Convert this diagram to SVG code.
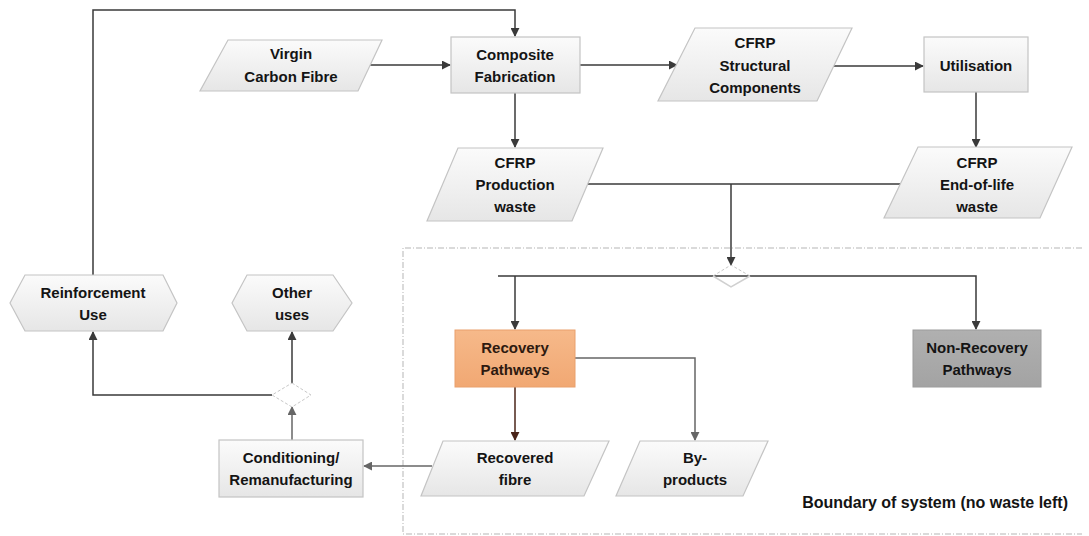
<svg xmlns="http://www.w3.org/2000/svg" width="1089" height="536" viewBox="0 0 1089 536">
<defs>
<linearGradient id="gf" x1="0" y1="0" x2="0" y2="1">
<stop offset="0" stop-color="#fbfbfb"/>
<stop offset="1" stop-color="#e6e6e6"/>
</linearGradient>
<linearGradient id="go" x1="0" y1="0" x2="0" y2="1">
<stop offset="0" stop-color="#f6b98a"/>
<stop offset="1" stop-color="#f1a873"/>
</linearGradient>
<linearGradient id="gg" x1="0" y1="0" x2="0" y2="1">
<stop offset="0" stop-color="#b0b0b0"/>
<stop offset="1" stop-color="#a3a3a3"/>
</linearGradient>
<marker id="ah" viewBox="0 0 10 10" refX="9" refY="5" markerWidth="9" markerHeight="9" markerUnits="userSpaceOnUse" orient="auto">
<path d="M0,0 L10,5 L0,10 z" fill="#3a3a3a"/>
</marker>
<marker id="ahg" viewBox="0 0 10 10" refX="9" refY="5" markerWidth="9" markerHeight="9" markerUnits="userSpaceOnUse" orient="auto">
<path d="M0,0 L10,5 L0,10 z" fill="#666666"/>
</marker>
<marker id="ahb" viewBox="0 0 10 10" refX="9" refY="5" markerWidth="9" markerHeight="9" markerUnits="userSpaceOnUse" orient="auto">
<path d="M0,0 L10,5 L0,10 z" fill="#4a2418"/>
</marker>
</defs>
<style>
.n{fill:url(#gf);stroke:#c4c4c4;stroke-width:1.2}
.t{font-family:"Liberation Sans",Arial,sans-serif;font-weight:bold;font-size:15px;fill:#141414;text-anchor:middle}
.c{fill:none;stroke:#3a3a3a;stroke-width:1.5}
.cg{fill:none;stroke:#666666;stroke-width:1.5}
.cb{fill:none;stroke:#4a2418;stroke-width:1.5}
.d{fill:none;stroke:#c8c8c8;stroke-width:1;stroke-dasharray:3 2}
</style>
<rect width="1089" height="536" fill="#ffffff"/>
<g id="boundary">
<path d="M1082,248 H403 V534 H1082" fill="none" stroke="#b5b5b5" stroke-width="1" stroke-dasharray="6 2 1 2"/>
<text x="1068" y="508" style="font-family:'Liberation Sans',Arial,sans-serif;font-size:16px;font-weight:bold;fill:#141414;text-anchor:end">Boundary of system (no waste left)</text>
</g>
<g id="connectors">
<path class="c" d="M93,276 V10 H515 V36" marker-end="url(#ah)"/>
<path class="c" d="M370,65 H450" marker-end="url(#ah)"/>
<path class="c" d="M580,65 H677" marker-end="url(#ah)"/>
<path class="c" d="M515,93 V147" marker-end="url(#ah)"/>
<path class="c" d="M834,66 H923" marker-end="url(#ah)"/>
<path class="c" d="M976,92 V147" marker-end="url(#ah)"/>
<path class="c" d="M586,184 H901"/>
<path class="c" d="M731,184 V265" marker-end="url(#ah)"/>
<path class="c" d="M498,276 H976 V329" marker-end="url(#ah)"/>
<path class="c" d="M515,276 V329" marker-end="url(#ah)"/>
<path class="cb" d="M515,387 V440" marker-end="url(#ahb)"/>
<path class="cg" d="M575,358 H695 V440" marker-end="url(#ahg)"/>
<path class="cg" d="M432,466 H364" marker-end="url(#ahg)"/>
<path class="cg" d="M292,440 V407" marker-end="url(#ahg)"/>
<path class="c" d="M292,383 V332" marker-end="url(#ah)"/>
<path class="c" d="M272,395 H93 V332" marker-end="url(#ah)"/>
</g>
<g id="diamond-split">
<path class="d" d="M713,276 L731,265 L750,276"/>
<path d="M713,276 L731,287 L750,276" fill="none" stroke="#d0d0d0" stroke-width="1.5"/>
</g>
<g id="diamond-reuse">
<path d="M292,383 L311,395 L292,407 L272,395 Z" fill="#ffffff" stroke="#c8c8c8" stroke-width="1" stroke-dasharray="3 2"/>
</g>
<g id="virgin-carbon-fibre">
<path class="n" d="M228,40 H382 L358,91 H200 Z"/>
<text class="t" x="291" y="59">Virgin</text>
<text class="t" x="291" y="82">Carbon Fibre</text>
</g>
<g id="composite-fabrication">
<rect class="n" x="451" y="37" width="129" height="56"/>
<text class="t" x="515" y="60">Composite</text>
<text class="t" x="515" y="82">Fabrication</text>
</g>
<g id="cfrp-structural">
<path class="n" d="M695,28 H852 L817,101 H658 Z"/>
<text class="t" x="755" y="48">CFRP</text>
<text class="t" x="755" y="71">Structural</text>
<text class="t" x="755" y="93">Components</text>
</g>
<g id="utilisation">
<rect class="n" x="924" y="37" width="104" height="55"/>
<text class="t" x="976" y="71">Utilisation</text>
</g>
<g id="cfrp-production-waste">
<path class="n" d="M458,148 H603 L572,221 H427 Z"/>
<text class="t" x="515" y="168">CFRP</text>
<text class="t" x="515" y="190">Production</text>
<text class="t" x="515" y="212">waste</text>
</g>
<g id="cfrp-eol-waste">
<path class="n" d="M918,147 H1072 L1040,218 H884 Z"/>
<text class="t" x="977" y="168">CFRP</text>
<text class="t" x="977" y="190">End-of-life</text>
<text class="t" x="977" y="212">waste</text>
</g>
<g id="recovery-pathways">
<rect x="455" y="330" width="120" height="57" fill="url(#go)" stroke="#e9a06c" stroke-width="1"/>
<text class="t" x="515" y="353" style="fill:#2e1a10">Recovery</text>
<text class="t" x="515" y="375" style="fill:#2e1a10">Pathways</text>
</g>
<g id="non-recovery-pathways">
<rect x="913" y="330" width="128" height="57" fill="url(#gg)" stroke="#9c9c9c" stroke-width="1"/>
<text class="t" x="977" y="353">Non-Recovery</text>
<text class="t" x="977" y="375">Pathways</text>
</g>
<g id="recovered-fibre">
<path class="n" d="M443,441 H609 L584,496 H421 Z"/>
<text class="t" x="515" y="463">Recovered</text>
<text class="t" x="515" y="485">fibre</text>
</g>
<g id="by-products">
<path class="n" d="M640,441 H768 L743,496 H616 Z"/>
<text class="t" x="695" y="463">By-</text>
<text class="t" x="695" y="485">products</text>
</g>
<g id="conditioning">
<rect class="n" x="219" y="440" width="144" height="57"/>
<text class="t" x="291" y="463">Conditioning/</text>
<text class="t" x="291" y="485">Remanufacturing</text>
</g>
<g id="reinforcement-use">
<path class="n" d="M25,275 H163 L177,303 L163,331 H25 L10,303 Z"/>
<text class="t" x="93" y="298">Reinforcement</text>
<text class="t" x="93" y="320">Use</text>
</g>
<g id="other-uses">
<path class="n" d="M247,275 H333 L352,303 L333,331 H247 L232,303 Z"/>
<text class="t" x="292" y="298">Other</text>
<text class="t" x="292" y="320">uses</text>
</g>
</svg>
